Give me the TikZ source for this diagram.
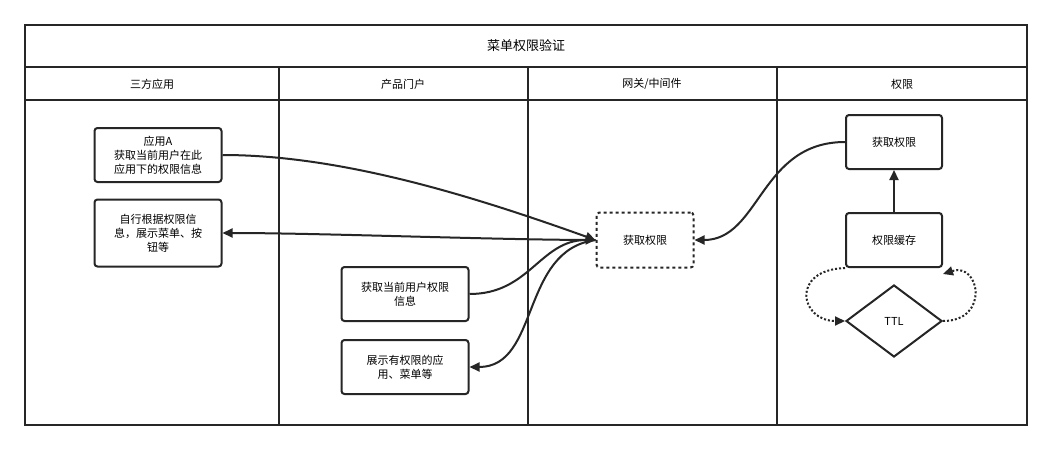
\documentclass[tikz,border=0pt]{standalone}
\usepackage{fontspec}
\setmainfont{Noto Sans CJK SC}
\usetikzlibrary{arrows.meta,shapes.geometric}
\begin{document}
\begin{tikzpicture}[x=1pt,y=-1pt,
  font=\fontsize{11}{14}\selectfont,
  box/.style={draw=black!85,line width=2pt,rounded corners=3pt,align=center,minimum width=127pt,minimum height=54pt,inner sep=2pt},
  link/.style={draw=black!85,line width=2pt,-{Triangle[length=10pt,width=9pt]}},
  dotl/.style={draw=black!85,line width=2pt,dotted,-{Triangle[length=10pt,width=9pt]}},
  lane/.style={draw=black!85,line width=1.4pt}]
\useasboundingbox (0,0) rectangle (1051,450);
\fill[white] (0,0) rectangle (1051,450);
\draw[lane] (25,25) rectangle (1027,425);
\draw[lane] (25,67) -- (1027,67);
\draw[lane] (25,100) -- (1027,100);
\foreach \x in {279,528,777} \draw[lane] (\x,67) -- (\x,425);
\node (title) at (526,46) {\fontsize{13}{15}\selectfont 菜单权限验证};
\node (h1) at (152,84) {三方应用};
\node (h2) at (403,84) {产品门户};
\node (h3) at (652,84) {网关/中间件};
\node (h4) at (902,84) {权限};
\node[box] (a) at (158,155) {应用A\\获取当前用户在此\\应用下的权限信息};
\node[box,minimum height=67pt] (b) at (158,233) {自行根据权限信\\息，展示菜单、按\\钮等};
\node[box] (c) at (405,294) {获取当前用户权限\\信息};
\node[box] (d) at (405,367) {展示有权限的应\\用、菜单等};
\node[box,dashed,minimum width=97pt,minimum height=55pt] (g) at (645,240) {获取权限};
\node[box,minimum width=96pt] (p) at (894,142) {获取权限};
\node[box,minimum width=96pt] (k) at (894,240) {权限缓存};
\node[diamond,draw=black!85,line width=2pt,minimum width=96pt,minimum height=72pt,inner sep=0pt] (t) at (894,321) {TTL};
\draw[link] (a.east) .. controls (340,155) and (470,195) .. (g.west);
\draw[link] (g.west) .. controls (500,240) and (320,233) .. (b.east);
\draw[link] (c.east) .. controls (530,294) and (540,240) .. (g.west);
\draw[link] (g.west) .. controls (520,250) and (540,367) .. (d.east);
\draw[link] (p.west) .. controls (760,142) and (760,240) .. (g.east);
\draw[link] (k.north) -- (p.south);
\draw[dotl] (k.south west) .. controls (790,270) and (800,321) .. (t.west);
\draw[dotl] (t.east) .. controls (990,321) and (980,262) .. ([yshift=-6pt]k.south east);
\end{tikzpicture}
\end{document}
